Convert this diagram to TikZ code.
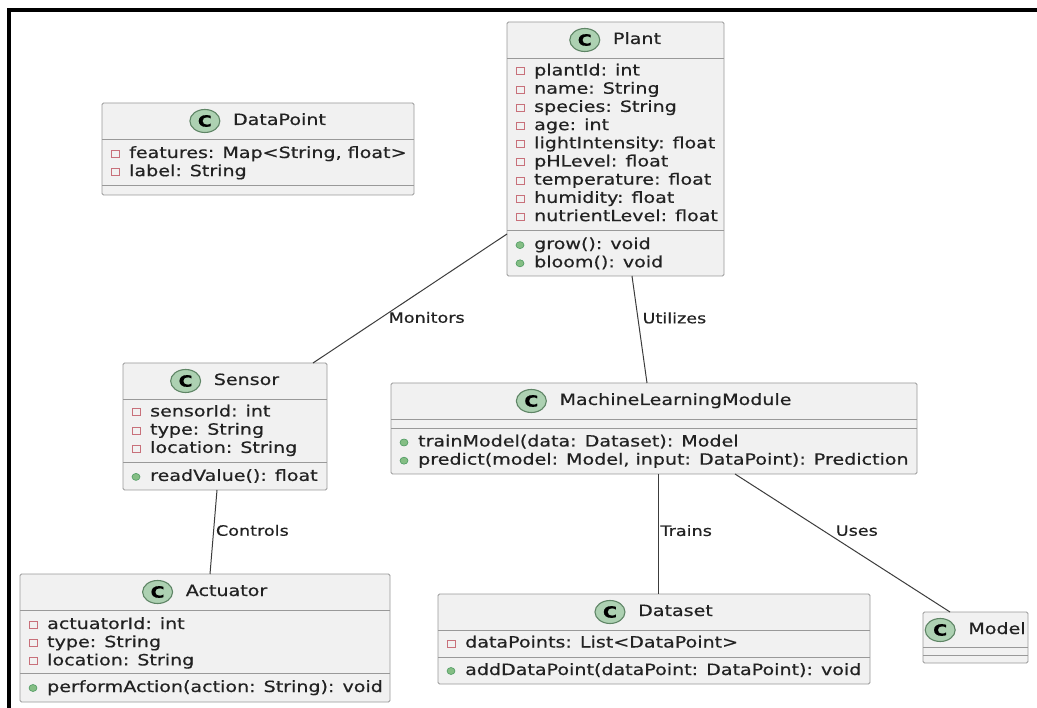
\documentclass[tikz,border=0pt]{standalone}
\usepackage{fontspec}
\newfontfamily\umlfont[FakeStretch=1.23,FakeBold=0.5]{DejaVu Sans}
\usetikzlibrary{calc,shapes.geometric}

\definecolor{boxfill}{HTML}{F1F1F1}
\definecolor{boxline}{HTML}{999999}
\definecolor{circfill}{HTML}{ADD1B2}
\definecolor{circline}{HTML}{5F8566}
\definecolor{privred}{HTML}{C8707A}
\definecolor{pubgreen}{HTML}{84BE84}
\definecolor{pubdark}{HTML}{4E9A62}
\definecolor{txt}{HTML}{222222}
\definecolor{wire}{HTML}{3C3C3C}

\tikzset{
  classbox/.style={draw=boxline, fill=boxfill, line width=0.9pt, rounded corners=1.5pt,
    anchor=north west, inner sep=0pt, outer sep=0pt},
  sepline/.style={draw=boxline, line width=0.9pt},
  rowtext/.style={anchor=west, inner sep=0pt, text=txt, text height=11.5pt, text depth=3.5pt},
  titletext/.style={inner sep=0pt, text=txt, text height=11.5pt, text depth=3.5pt},
  cicon/.style={ellipse, draw=circline, fill=circfill, line width=1.1pt, inner sep=0pt,
    minimum width=30pt, minimum height=23pt, text=black, font=\umlfont\fontsize{15.5}{18}\selectfont\bfseries},
  privicon/.style={rectangle, draw=privred, line width=1pt, inner sep=0pt,
    minimum width=8pt, minimum height=7pt},
  pubicon/.style={ellipse, draw=pubdark, fill=pubgreen, line width=0.6pt, inner sep=0pt,
    minimum width=8pt, minimum height=7pt},
  conn/.style={draw=wire, line width=1pt},
  lbl/.style={anchor=west, inner sep=0pt, text=txt, text height=10.5pt, text depth=3pt,
    font=\umlfont\fontsize{14.3}{16}\selectfont},
}

% class frame: name, left, top, right, bottom
\newcommand\umlclass[5]{%
  \node[classbox, minimum width={#4-#2}, minimum height={#5-#3}] (#1) at (#2,#3) {};}
% horizontal compartment separator: name, y
\newcommand\umlsep[2]{\draw[sepline] (#1.west |- 0,#2) -- (#1.east |- 0,#2);}
% class header: name, title
\newcommand\umltitle[2]{%
  \node[titletext] (#1-t) at ($(#1.north)+(21.5,18)$) {#2};
  \node[cicon] (#1-c) at ($(#1-t.west)+(-28,0)$) {C};}
% private attribute: name, id, y, text
\newcommand\umlattr[4]{%
  \path (#1.west |- 0,#3) ++(13,0) node[privicon] (#1-ai#2) {}
        ++(14,0) node[rowtext] (#1-a#2) {#4};}
% public operation: name, id, y, text
\newcommand\umlop[4]{%
  \path (#1.west |- 0,#3) ++(13,0) node[pubicon] (#1-oi#2) {}
        ++(14,0) node[rowtext] (#1-o#2) {#4};}

\begin{document}
\begin{tikzpicture}[x=1pt, y=-1pt, font=\umlfont\fontsize{15.5}{18}\selectfont]
\useasboundingbox (0,0) rectangle (1037,708);
\fill[white] (0,0) rectangle (1037,708);

% outer frame (top and left edges)
\draw[line width=4pt] (1037,10) -- (9,10) -- (9,708);

% ---------- Plant ----------
\umlclass{plant}{507}{22}{724}{276}
\umltitle{plant}{Plant}
\umlsep{plant}{58}
\umlattr{plant}{1}{71.5}{plantId: int}
\umlattr{plant}{2}{89.7}{name: String}
\umlattr{plant}{3}{107.9}{species: String}
\umlattr{plant}{4}{126.1}{age: int}
\umlattr{plant}{5}{144.3}{lightIntensity: float}
\umlattr{plant}{6}{162.5}{pHLevel: float}
\umlattr{plant}{7}{180.7}{temperature: float}
\umlattr{plant}{8}{198.9}{humidity: float}
\umlattr{plant}{9}{217.1}{nutrientLevel: float}
\umlsep{plant}{230.6}
\umlop{plant}{1}{245.1}{grow(): void}
\umlop{plant}{2}{263.3}{bloom(): void}

% ---------- DataPoint ----------
\umlclass{datapoint}{102}{103}{414}{195}
\umltitle{datapoint}{DataPoint}
\umlsep{datapoint}{139}
\umlattr{datapoint}{1}{154}{features: Map<String, float>}
\umlattr{datapoint}{2}{172.2}{label: String}
\umlsep{datapoint}{185.7}

% ---------- Sensor ----------
\umlclass{sensor}{123}{363}{327}{490}
\umltitle{sensor}{Sensor}
\umlsep{sensor}{399}
\umlattr{sensor}{1}{412.5}{sensorId: int}
\umlattr{sensor}{2}{430.7}{type: String}
\umlattr{sensor}{3}{448.9}{location: String}
\umlsep{sensor}{462.4}
\umlop{sensor}{1}{476.9}{readValue(): float}

% ---------- MachineLearningModule ----------
\umlclass{mlm}{391}{383}{917}{474}
\umltitle{mlm}{MachineLearningModule}
\umlsep{mlm}{419}
\umlsep{mlm}{428}
\umlop{mlm}{1}{442.5}{trainModel(data: Dataset): Model}
\umlop{mlm}{2}{460.7}{predict(model: Model, input: DataPoint): Prediction}

% ---------- Actuator ----------
\umlclass{actuator}{20}{574}{390}{702}
\umltitle{actuator}{Actuator}
\umlsep{actuator}{610}
\umlattr{actuator}{1}{625}{actuatorId: int}
\umlattr{actuator}{2}{643.2}{type: String}
\umlattr{actuator}{3}{661.4}{location: String}
\umlsep{actuator}{673.5}
\umlop{actuator}{1}{688}{performAction(action: String): void}

% ---------- Dataset ----------
\umlclass{dataset}{438}{594}{870}{684}
\umltitle{dataset}{Dataset}
\umlsep{dataset}{630}
\umlattr{dataset}{1}{643.5}{dataPoints: List<DataPoint>}
\umlsep{dataset}{657}
\umlop{dataset}{1}{671}{addDataPoint(dataPoint: DataPoint): void}

% ---------- Model ----------
\umlclass{model}{923}{612}{1028}{663}
\umltitle{model}{Model}
\umlsep{model}{647}
\umlsep{model}{655}

% ---------- associations ----------
\coordinate (pl-w)  at ($(plant.north west)+(0,212)$);
\coordinate (se-n)  at ($(sensor.north west)+(190,0)$);
\coordinate (pl-s)  at ($(plant.south west)+(125,0)$);
\coordinate (ml-n)  at ($(mlm.north west)+(256,0)$);
\coordinate (se-s)  at ($(sensor.south west)+(94,0)$);
\coordinate (ac-n)  at ($(actuator.north west)+(190,0)$);
\coordinate (ml-s1) at ($(mlm.south west)+(267,0)$);
\coordinate (ds-n)  at ($(dataset.north west)+(220,0)$);
\coordinate (ml-s2) at ($(mlm.south west)+(344,0)$);
\coordinate (mo-n)  at ($(model.north west)+(27,0)$);

\draw[conn] (pl-w) -- node[lbl, pos=0.659, xshift=9pt] (l-mon) {Monitors} (se-n);
\draw[conn] (pl-s) -- node[lbl, pos=0.407, xshift=4pt] (l-uti) {Utilizes} (ml-n);
\draw[conn] (se-s) -- node[lbl, pos=0.5, xshift=2pt] (l-con) {Controls} (ac-n);
\draw[conn] (ml-s1) -- node[lbl, pos=0.485, xshift=2pt] (l-tra) {Trains} (ds-n);
\draw[conn] (ml-s2) -- node[lbl, pos=0.42, xshift=10pt] (l-use) {Uses} (mo-n);
\end{tikzpicture}
\end{document}
